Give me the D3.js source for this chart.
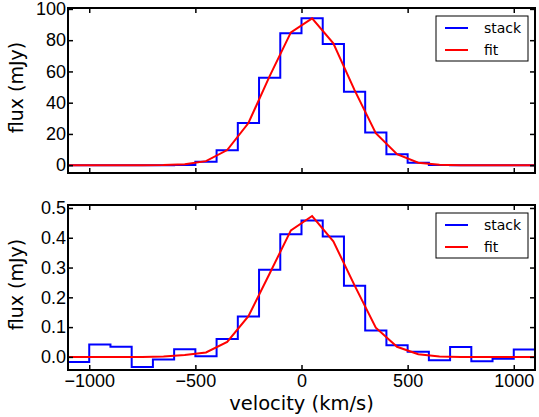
<!DOCTYPE html>
<html>
<head>
<meta charset="utf-8">
<script src="https://cdn.jsdelivr.net/npm/d3@7"></script>
<style>
  body { margin: 0; background: #fff; }
  svg { font-family: "DejaVu Sans", sans-serif; }
  .tick text { font-size: 18px; fill: #000; }
  .ylabel { font-size: 19px; }
  .xlabel { font-size: 19.5px; }
  .legend text { font-size: 14px; }
</style>
</head>
<body>
<svg width="539" height="417"></svg>
<script>
// bin centres (km/s), 100 km/s wide
const velocity = [-1050, -950, -850, -750, -650, -550, -450, -350, -250, -150, -50,
                  50, 150, 250, 350, 450, 550, 650, 750, 850, 950, 1050];

// top panel
const stackTop = [0, 0, 0, 0, 0, 0.2, 2.2, 9.5, 27, 56, 84.5,
                  94, 77.6, 47, 21, 7, 1.5, 0.2, 0, 0, 0, 0];
const fitTop = [0, 0, 0, 0, 0.1, 0.6, 2.6, 9.7, 27, 57, 85,
                94, 78, 48, 20.5, 7, 1.6, 0.3, 0, 0, 0, 0];

// bottom panel
const stackBot = [-0.017, 0.042, 0.034, -0.034, -0.009, 0.026, 0.002, 0.06, 0.136, 0.293, 0.412,
                  0.458, 0.404, 0.239, 0.089, 0.039, 0.017, -0.011, 0.033, -0.015, -0.006, 0.025];
const fitBot = [0, 0, 0, 0, 0.001, 0.006, 0.015, 0.05, 0.137, 0.28, 0.425,
                0.473, 0.388, 0.24, 0.098, 0.034, 0.009, 0.001, 0, 0, 0, 0];

const xTicks = [-1000, -500, 0, 500, 1000];
const yTicksTop = [0, 20, 40, 60, 80, 100];
const yTicksBot = [0, 0.1, 0.2, 0.3, 0.4, 0.5];

const svg = d3.select("svg");
const left = 68, right = 535;

const x = d3.scaleLinear().domain([-1100, 1100]).range([left, right]);

function panel(top, bottom, yDomain, yTicks, yFmt, stack, fit, showX) {
  const y = d3.scaleLinear().domain(yDomain).range([bottom, top]);
  const g = svg.append("g");

  // step line for the stack (steps-mid)
  const steps = [];
  velocity.forEach(function(v, i) {
    steps.push([v - 50, stack[i]]);
    steps.push([v + 50, stack[i]]);
  });
  const clipId = "clip" + top;
  g.append("clipPath").attr("id", clipId)
    .append("rect").attr("x", left).attr("y", top).attr("width", right - left).attr("height", bottom - top);

  const line = d3.line().x(function(d) { return x(d[0]); }).y(function(d) { return y(d[1]); });

  g.append("path")
    .datum(steps)
    .attr("clip-path", "url(#" + clipId + ")")
    .attr("fill", "none")
    .attr("stroke", "#0000ff")
    .attr("stroke-width", 2)
    .attr("d", line);

  const fitPts = [[-1100, fit[0]]].concat(velocity.map(function(v, i) { return [v, fit[i]]; }), [[1100, fit[fit.length - 1]]]);
  g.append("path")
    .datum(fitPts)
    .attr("clip-path", "url(#" + clipId + ")")
    .attr("fill", "none")
    .attr("stroke", "#ff0000")
    .attr("stroke-width", 2)
    .attr("d", line);

  // axes, ticks inward on all four sides
  const xb = d3.axisBottom(x).tickValues(xTicks).tickSizeInner(-5).tickSizeOuter(0)
    .tickFormat(showX ? function(d) { return d3.format("")(d).replace("-", "\u2212"); } : "");
  const xt = d3.axisTop(x).tickValues(xTicks).tickSizeInner(-5).tickSizeOuter(0).tickFormat("");
  const yl = d3.axisLeft(y).tickValues(yTicks).tickSizeInner(-5).tickSizeOuter(0).tickFormat(yFmt);
  const yr = d3.axisRight(y).tickValues(yTicks).tickSizeInner(-5).tickSizeOuter(0).tickFormat("");

  const gx = g.append("g").attr("transform", "translate(0," + bottom + ")").call(xb);
  gx.selectAll("text").attr("y", 17).attr("dy", 0);
  g.append("g").attr("transform", "translate(0," + top + ")").call(xt);
  const gy = g.append("g").attr("transform", "translate(" + left + ",0)").call(yl);
  gy.selectAll("text").attr("x", -2);
  g.append("g").attr("transform", "translate(" + right + ",0)").call(yr);
  g.selectAll(".domain").remove();
  g.selectAll(".tick line").attr("stroke", "#000").attr("stroke-width", 1.5);

  g.append("rect")
    .attr("x", left).attr("y", top)
    .attr("width", right - left).attr("height", bottom - top)
    .attr("fill", "none").attr("stroke", "#000").attr("stroke-width", 2);

  g.append("text")
    .attr("class", "ylabel")
    .attr("transform", "translate(23," + ((top + bottom) / 2 - 3) + ") rotate(-90)")
    .attr("text-anchor", "middle")
    .text("flux (mJy)");

  // legend
  const lg = g.append("g").attr("class", "legend").attr("transform", "translate(436," + (top + 8) + ")");
  lg.append("rect").attr("width", 92).attr("height", 45)
    .attr("fill", "#fff").attr("stroke", "#000").attr("stroke-width", 1);
  [["stack", "#0000ff"], ["fit", "#ff0000"]].forEach(function(e, i) {
    const yy = 12 + i * 22;
    lg.append("line").attr("x1", 9).attr("x2", 32).attr("y1", yy).attr("y2", yy)
      .attr("stroke", e[1]).attr("stroke-width", 2);
    lg.append("text").attr("x", 48).attr("y", yy).attr("dy", "0.35em").text(e[0]);
  });
}

panel(8, 173, [-5, 100.6], yTicksTop, d3.format("d"), stackTop, fitTop, false);
panel(205, 370, [-0.044, 0.51], yTicksBot, d3.format(".1f"), stackBot, fitBot, true);

svg.append("text")
  .attr("class", "xlabel")
  .attr("x", (left + right) / 2)
  .attr("y", 410)
  .attr("text-anchor", "middle")
  .text("velocity (km/s)");
</script>
</body>
</html>
